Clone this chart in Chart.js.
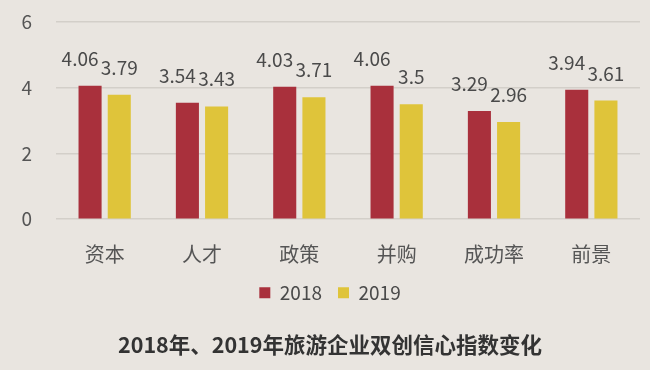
<!DOCTYPE html>
<html><head><meta charset="utf-8">
<script src="https://cdn.jsdelivr.net/npm/chart.js@4/dist/chart.umd.min.js"></script>
<style>html,body{margin:0;padding:0;background:#e9e5e0;}#wrap{width:650px;height:370px;}</style>
</head><body><div id="wrap"><canvas id="c" width="650" height="370"></canvas></div>
<script>
const categories = ['资本','人才','政策','并购','成功率','前景'];
const series2018 = [4.06,3.54,4.03,4.06,3.29,3.94];
const series2019 = [3.79,3.43,3.71,3.5,2.96,3.61];
const seriesNames = ['2018','2019'];
const titleText = '2018年、2019年旅游企业双创信心指数变化';

const FONT = '"Noto Sans CJK SC", "Noto Sans", sans-serif';
const labelShift = [-10, 0];
const labelPlugin = {
  id: 'vlabels',
  afterDatasetsDraw(chart) {
    const ctx = chart.ctx;
    ctx.save();
    ctx.font = '19px ' + FONT;
    ctx.fillStyle = '#4a4a4a';
    ctx.textAlign = 'center';
    ctx.textBaseline = 'alphabetic';
    chart.data.datasets.forEach((ds, i) => {
      chart.getDatasetMeta(i).data.forEach((bar, j) => {
        ctx.fillText(String(ds.data[j]), bar.x + labelShift[i], bar.y - 20);
      });
    });
    ctx.restore();
  }
};

new Chart(document.getElementById('c'), {
  type: 'bar',
  data: {
    labels: categories,
    datasets: [
      {label: seriesNames[0], data: series2018, backgroundColor: '#a9303c', categoryPercentage: 0.6, barPercentage: 0.79},
      {label: seriesNames[1], data: series2019, backgroundColor: '#dfc43a', categoryPercentage: 0.6, barPercentage: 0.79}
    ]
  },
  options: {
    responsive: false,
    animation: false,
    devicePixelRatio: 1,
    layout: {autoPadding: false, padding: {top: 22, right: 10, left: 20, bottom: 6}},
    plugins: {
      legend: {
        position: 'bottom',
        labels: {boxWidth: 11, boxHeight: 11, color: '#4a4a4a', font: {size: 19, family: FONT}, padding: 16}
      },
      title: {
        display: true, text: titleText, position: 'bottom', color: '#333',
        font: {size: 21.5, weight: 'bold', family: FONT}, padding: {top: 20, bottom: 6}
      },
      tooltip: {enabled: false}
    },
    scales: {
      x: {
        grid: {display: false, drawTicks: false},
        border: {display: false},
        ticks: {color: '#555', font: {size: 20, family: FONT}, padding: 23},
        afterFit(scale) { scale.height = 48; }
      },
      y: {
        min: 0, max: 6,
        ticks: {stepSize: 2, color: '#555', font: {size: 19, family: FONT}, padding: 24},
        grid: {color: '#d3cfc9', lineWidth: 1.5, drawTicks: false},
        border: {display: false},
        afterFit(scale) { scale.width = 36; scale.paddingTop = 0; scale.paddingBottom = 0; }
      }
    }
  },
  plugins: [labelPlugin]
});
</script></body></html>
